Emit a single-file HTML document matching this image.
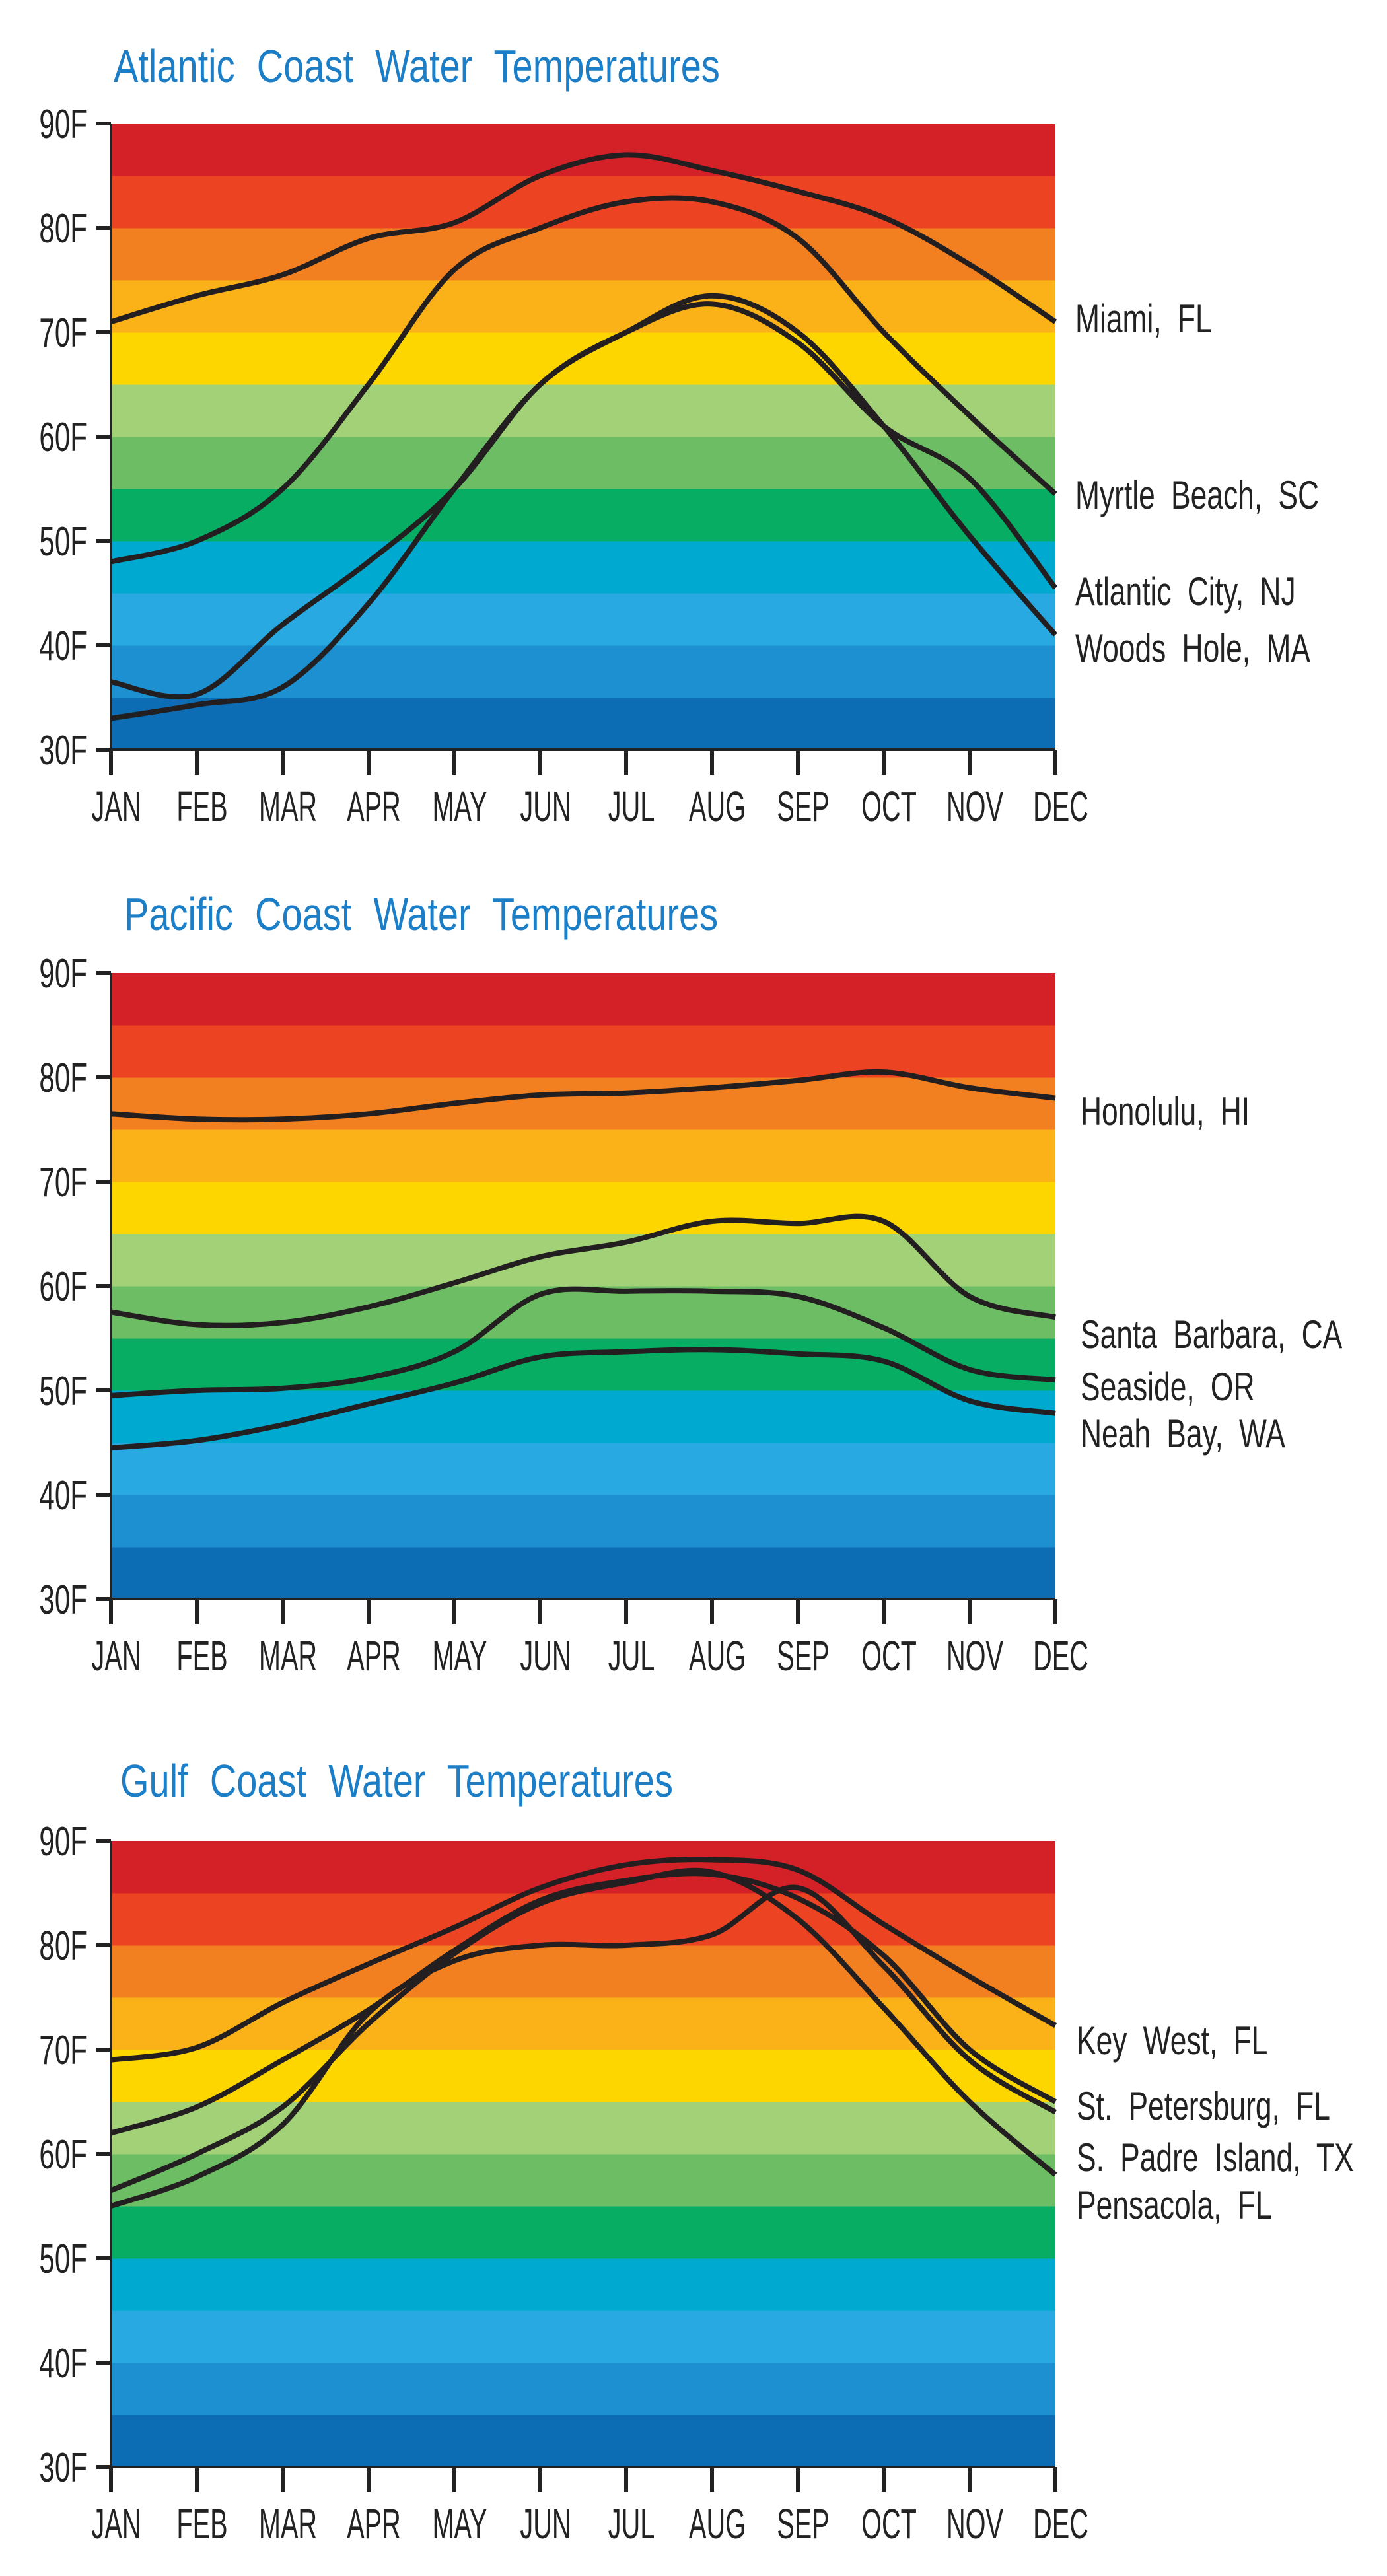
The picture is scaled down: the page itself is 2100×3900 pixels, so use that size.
<!DOCTYPE html>
<html><head><meta charset="utf-8"><title>Coast Water Temperatures</title>
<style>
html,body{margin:0;padding:0;background:#fff;width:2100px;height:3900px;overflow:hidden}
svg{display:block}
text{font-family:"Liberation Sans",sans-serif}
</style></head>
<body>
<svg id="root" width="2100" height="3900" viewBox="0 0 2100 3900" xmlns="http://www.w3.org/2000/svg"></svg>
<script>
const months = ["JAN","FEB","MAR","APR","MAY","JUN","JUL","AUG","SEP","OCT","NOV","DEC"];
const yTicks = [30,40,50,60,70,80,90];
const bandColors = ["#0c6db5","#1c90d0","#29a9e1","#00a9cf","#06ad63","#6dbd65","#a2d177","#fdd600","#fbb118","#f28021","#ec4423","#d42027"];

const atlanticNames = ["Miami, FL","Myrtle Beach, SC","Atlantic City, NJ","Woods Hole, MA"];
const miami = [71,73.5,75.5,79,80.5,85,87,85.5,83.5,81,76.5,71];
const myrtle = [48,50,55,65,76,80,82.5,82.5,79,70,62,54.5];
const atlanticCity = [36.5,35.3,42,48,55,65,70,72.7,69,61,56,45.5];
const woodsHole = [33,34.3,36,44,55,65,70,73.5,70,61,50.5,41];

const pacificNames = ["Honolulu, HI","Santa Barbara, CA","Seaside, OR","Neah Bay, WA"];
const honolulu = [76.5,76,76,76.5,77.5,78.3,78.5,79,79.7,80.5,79,78];
const santaBarbara = [57.5,56.3,56.5,58,60.3,62.8,64.2,66.2,66,66.2,59,57];
const seaside = [49.5,50,50.2,51.2,53.7,59.2,59.5,59.5,59,56,52,51];
const neahBay = [44.5,45.2,46.7,48.7,50.7,53.2,53.7,53.9,53.5,52.8,49,47.8];

const gulfNames = ["Key West, FL","St. Petersburg, FL","S. Padre Island, TX","Pensacola, FL"];
const keyWest = [69,70.2,74.5,78.2,81.7,85.5,87.7,88.2,87.2,82,77,72.3];
const stPete = [62,64.5,69,73.8,79.5,84.3,86.2,86.8,84.5,79,70,65];
const padre = [55,57.8,62.8,73.5,78.5,80,80,81,85.5,78,69,64];
const pensacola = [56.5,60,64.5,72.5,79.2,84,86,87,82.5,74,65,58];

const charts = [
  {title:"Atlantic Coast Water Temperatures", key:"atlantic", titleX:172, titleY:124, top:187, bot:1135,
   series:[miami,myrtle,atlanticCity,woodsHole], names:atlanticNames, labelY:[483,750,896,982], labelX:1628},
  {title:"Pacific Coast Water Temperatures", key:"pacific", titleX:188, titleY:1408, top:1473, bot:2421,
   series:[honolulu,santaBarbara,seaside,neahBay], names:pacificNames, labelY:[1683,2021,2100,2171], labelX:1636},
  {title:"Gulf Coast Water Temperatures", key:"gulf", titleX:182, titleY:2720, top:2787, bot:3735,
   series:[keyWest,stPete,padre,pensacola], names:gulfNames, labelY:[3090,3189,3267,3339], labelX:1630}
];
const NS="http://www.w3.org/2000/svg";
const root=document.getElementById('root');
const X0=168, X1=1598;
function mk(tag,attrs,parent){const e=document.createElementNS(NS,tag);for(const k in attrs)e.setAttribute(k,attrs[k]);parent.appendChild(e);return e;}
function txt(parent,x,y,size,sx,anchor,fill,str,ws){
  const t=mk('text',{transform:`translate(${x},${y}) scale(${sx},1)`,'font-size':size,fill:fill,'text-anchor':anchor,'word-spacing':ws||0},parent);
  t.textContent=str;return t;
}
charts.forEach(c=>{
  const g=mk('g',{},root);
  
  
  const xs=i=>X0+(X1-X0)*i/11;
  const ys=v=>c.bot-(v-30)*(c.bot-c.top)/60;
  const t=txt(g,c.titleX,c.titleY,70,0.8,'start','#1b7ec6',c.title,22);
  
  
  bandColors.forEach((col,i)=>{
    const r=mk('rect',{x:X0,y:ys(35+i*5),width:X1-X0,height:ys(30+i*5)-ys(35+i*5)+0.5,fill:col},g);
    
    
  });
  const ax=mk('path',{d:`M${X0},${c.top} V${c.bot} H${X1}`,stroke:'#222',fill:'none','stroke-width':4},g);
  
  
  yTicks.forEach(v=>{
    mk('line',{x1:X0-22,x2:X0,y1:ys(v),y2:ys(v),stroke:'#222','stroke-width':6},g);
    const tl=txt(g,X0-36,ys(v)+22,62,0.68,'end','#222',v+'F');
    
    
  });
  months.forEach((m,i)=>{
    mk('line',{x1:xs(i),x2:xs(i),y1:c.bot,y2:c.bot+38,stroke:'#222','stroke-width':6},g);
    const ml=txt(g,xs(i)+8,c.bot+108,64,0.62,'middle','#222',m);
    
    
  });
  c.series.forEach((s,si)=>{
    const p=s.map((v,i)=>[xs(i),ys(v)]);
    let d=`M${p[0][0]},${p[0][1]}`;
    for(let i=0;i<p.length-1;i++){
      const a=p[Math.max(0,i-1)],b=p[i],cc=p[i+1],e=p[Math.min(p.length-1,i+2)];
      const c1=[b[0]+(cc[0]-a[0])/6,b[1]+(cc[1]-a[1])/6];
      const c2=[cc[0]-(e[0]-b[0])/6,cc[1]-(e[1]-b[1])/6];
      d+=` C${c1[0]},${c1[1]} ${c2[0]},${c2[1]} ${cc[0]},${cc[1]}`;
    }
    const ln=mk('path',{d:d,stroke:'#231f20',fill:'none','stroke-width':8,'stroke-linejoin':'round'},g);
    
    
    const lb=txt(g,c.labelX,c.labelY[si]+20,60,0.74,'start','#222',c.names[si],16);
    
    
  });
});
</script>
</body></html>
